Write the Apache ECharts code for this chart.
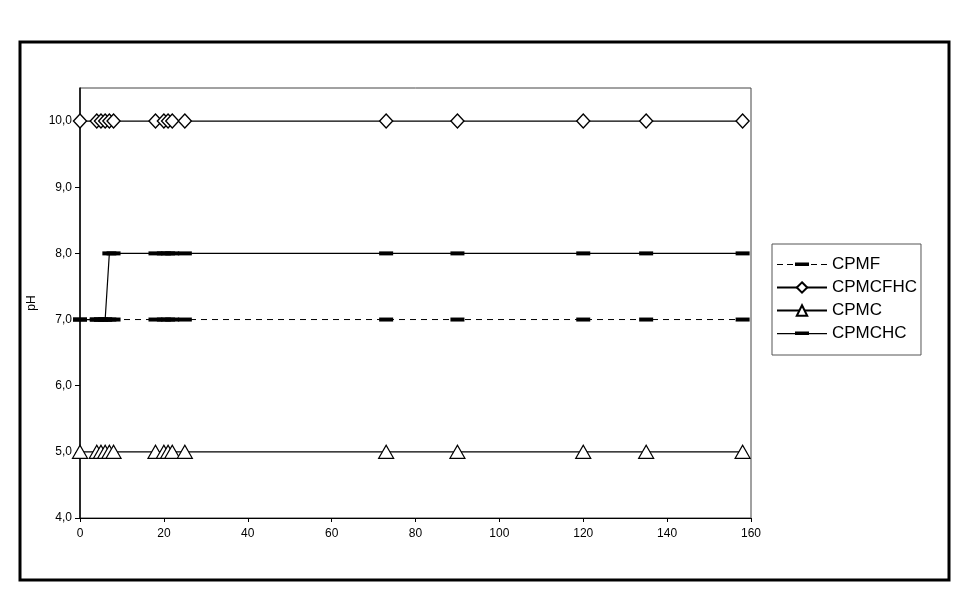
<!DOCTYPE html>
<html>
<head>
<meta charset="utf-8">
<script src="https://cdn.jsdelivr.net/npm/echarts@6/dist/echarts.min.js"></script>
<style>
html,body{margin:0;padding:0;background:#fff;}
#chart{width:968px;height:596px;}
</style>
</head>
<body>
<div id="chart"></div>
<script>
// Days of measurement
const days = [0, 4, 5, 6, 7, 8, 18, 20, 21, 22, 25, 73, 90, 120, 135, 158];
// pH values per series
const cpmf    = [7, 7, 7, 7, 7, 7, 7, 7, 7, 7, 7, 7, 7, 7, 7, 7];
const cpmcfhc = [10, 10, 10, 10, 10, 10, 10, 10, 10, 10, 10, 10, 10, 10, 10, 10];
const cpmc    = [5, 5, 5, 5, 5, 5, 5, 5, 5, 5, 5, 5, 5, 5, 5, 5];
const cpmchc  = [7, 7, 7, 7, 8, 8, 8, 8, 8, 8, 8, 8, 8, 8, 8, 8];
const seriesNames = ['CPMF', 'CPMCFHC', 'CPMC', 'CPMCHC'];
const xTicks = [0, 20, 40, 60, 80, 100, 120, 140, 160];
const yTicks = [4, 5, 6, 7, 8, 9, 10];

const pairs = arr => days.map((d, i) => [d, arr[i]]);

const chart = echarts.init(document.getElementById('chart'), null, {renderer: 'canvas'});
const font = 'Liberation Sans, Arial, sans-serif';

// legend icon shapes (50 x 13 box; tiny corner dots keep the scale 1:1)
const corners = 'M0,0h0.01v0.01h-0.01z M49.99,12.99h0.01v0.01h-0.01z ';
const dashIcon = 'path://' + corners +
  'M0,6h6v1h-6z M10,6h6v1h-6z M18,4.5h14v3.5h-14z M34,6h6v1h-6z M44,6h6v1h-6z';
const solidBarIcon = 'path://' + corners +
  'M0,6h50v1.2h-50z M18,4.5h14v3.5h-14z';

const option = {
  backgroundColor: '#ffffff',
  animation: false,
  graphic: [{
    type: 'rect',
    shape: {x: 20, y: 42, width: 929, height: 538},
    style: {fill: 'none', stroke: '#000', lineWidth: 3},
    silent: true
  }],
  grid: {
    left: 80, right: 217, top: 88, bottom: 78,
    show: true, borderColor: '#444', borderWidth: 1, backgroundColor: 'transparent'
  },
  legend: {
    left: 772, top: 244,
    orient: 'vertical',
    data: [
      {name: seriesNames[0], icon: dashIcon},
      {name: seriesNames[1]},
      {name: seriesNames[2]},
      {name: seriesNames[3], icon: solidBarIcon}
    ],
    itemWidth: 50, itemHeight: 13, itemGap: 6,
    padding: [12, 4, 13, 4],
    borderColor: '#555', borderWidth: 1,
    textStyle: {fontFamily: font, fontSize: 17, color: '#000'}
  },
  xAxis: {
    type: 'value', min: 0, max: 160, interval: 20,
    axisLine: {lineStyle: {color: '#000', width: 1}},
    axisTick: {show: true, length: 4, inside: false, lineStyle: {color: '#000'}},
    axisLabel: {fontFamily: font, fontSize: 12, color: '#000', margin: 10,
      customValues: xTicks},
    splitLine: {show: false}
  },
  yAxis: {
    type: 'value', min: 4, max: 10.5,
    name: 'pH', nameLocation: 'middle', nameGap: 40, nameRotate: 90,
    nameTextStyle: {fontFamily: font, fontSize: 12, color: '#000'},
    axisLine: {show: true, lineStyle: {color: '#000', width: 1.5}},
    axisTick: {show: true, length: 5, lineStyle: {color: '#000'}, customValues: yTicks},
    axisLabel: {fontFamily: font, fontSize: 12, color: '#000', margin: 8,
      customValues: yTicks,
      formatter: v => v.toFixed(1).replace('.', ',')},
    splitLine: {show: false}
  },
  series: [
    {
      name: 'CPMF', type: 'line', data: pairs(cpmf),
      symbol: 'rect', symbolSize: [14, 4],
      lineStyle: {color: '#000', width: 1, type: [6, 5]},
      itemStyle: {color: '#000', borderWidth: 0},
      z: 2
    },
    {
      name: 'CPMCFHC', type: 'line', data: pairs(cpmcfhc),
      symbol: 'diamond', symbolSize: [13, 14],
      lineStyle: {color: '#000', width: 1.2},
      itemStyle: {color: '#fff', borderColor: '#000', borderWidth: 1.4},
      z: 3
    },
    {
      name: 'CPMC', type: 'line', data: pairs(cpmc),
      symbol: 'triangle', symbolSize: [15, 13],
      lineStyle: {color: '#000', width: 1.2},
      itemStyle: {color: '#fff', borderColor: '#000', borderWidth: 1.2},
      z: 3
    },
    {
      name: 'CPMCHC', type: 'line', data: pairs(cpmchc),
      symbol: 'rect', symbolSize: [14, 4],
      lineStyle: {color: '#000', width: 1.2},
      itemStyle: {color: '#000', borderWidth: 0},
      z: 4
    }
  ]
};
chart.setOption(option);
</script>
</body>
</html>
